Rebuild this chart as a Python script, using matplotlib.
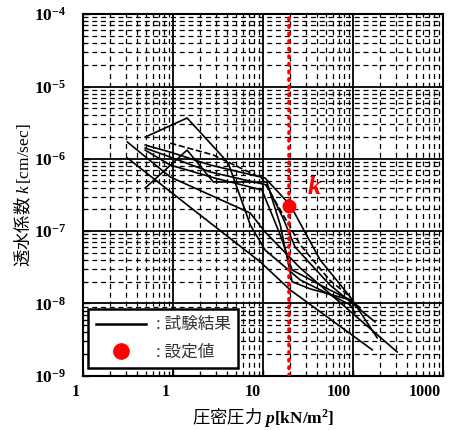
import matplotlib
matplotlib.use("Agg")
import matplotlib.pyplot as plt
import matplotlib.ticker as mticker
import matplotlib.transforms as mtrans
from matplotlib.lines import Line2D

plt.rcParams['font.family'] = ['Noto Sans CJK JP', 'DejaVu Sans']
plt.rcParams['mathtext.fontset'] = 'custom'
plt.rcParams['mathtext.rm'] = 'Liberation Serif'
plt.rcParams['mathtext.it'] = 'Liberation Serif:italic'
plt.rcParams['mathtext.bf'] = 'Liberation Serif:bold'
plt.rcParams['mathtext.bfit'] = 'Liberation Serif:italic:bold'

# test results: consolidation pressure p [kN/m2] vs permeability k [cm/sec]
p1 = [0.49, 1.43, 2.9, 4.1, 7.2, 10.5, 25.8, 93, 105]
k1 = [2.0e-6, 3.67e-6, 1.41e-6, 8.75e-7, 1.22e-7, 5.5e-8, 2.12e-8, 9.6e-9, 7.4e-9]
p2 = [0.93, 2.8, 9.7, 17.6, 25.8, 55, 93]          # dashed run
k2 = [1.65e-6, 1.13e-6, 5.4e-7, 1.5e-7, 6.5e-8, 2.1e-8, 1.23e-8]
p3 = [0.49, 1.43, 2.8, 11, 15.5, 21, 33, 93, 120]
k3 = [3.95e-7, 1.32e-6, 4.79e-7, 4.79e-7, 1.22e-7, 2.0e-8, 1.6e-8, 1.12e-8, 8.7e-9]
p4 = [0.49, 0.93, 2.6, 10.5, 20, 43, 93, 185]
k4 = [1.55e-6, 1.24e-6, 8.2e-7, 5.43e-7, 2.3e-7, 4.0e-8, 1.23e-8, 3.35e-9]
p5 = [0.49, 0.93, 2.6, 11, 16.7, 22.7, 55, 175]
k5 = [1.41e-6, 1.06e-6, 6.57e-7, 4.35e-7, 1.5e-7, 6.0e-8, 1.81e-8, 5.57e-9]
p6 = [0.49, 0.93, 2.9, 9.7, 15.5, 21, 55, 93]
k6 = [1.32e-6, 8.2e-7, 5.43e-7, 3.71e-7, 8.87e-8, 2.9e-8, 1.54e-8, 1.12e-8]
p7 = [0.31, 0.93, 7.2, 10.5, 25.8, 308]
k7 = [1.71e-6, 5.61e-7, 1.78e-7, 9.75e-8, 3.1e-8, 2.14e-9]
p8 = [0.31, 2.0, 9.3, 20, 163]
k8 = [1.03e-6, 1.67e-7, 3.76e-8, 1.54e-8, 2.29e-9]

series = [(p1, k1, '-'), (p2, k2, '--'), (p3, k3, '-'), (p4, k4, '-'),
          (p5, k5, '-'), (p6, k6, '-'), (p7, k7, '-'), (p8, k8, '-')]

# design value
p_set = 19.5
k_set = 2.2e-7

xticks = [0.1, 1, 10, 100, 1000]
xticklabels = ['1', '1', '10', '100', '1000']
yticks = [1e-9, 1e-8, 1e-7, 1e-6, 1e-5, 1e-4]
yticklabels = [r'$\mathbf{10^{-9}}$', r'$\mathbf{10^{-8}}$', r'$\mathbf{10^{-7}}$',
               r'$\mathbf{10^{-6}}$', r'$\mathbf{10^{-5}}$', r'$\mathbf{10^{-4}}$']

fig = plt.figure(figsize=(4.49, 4.30), dpi=100)
ax = fig.add_axes([0.185, 0.126, 0.802, 0.841])
ax.set_xscale('log')
ax.set_yscale('log')
ax.set_xlim(0.1, 1000)
ax.set_ylim(1e-9, 1e-4)

ax.xaxis.set_minor_locator(mticker.LogLocator(base=10, subs=range(2, 10), numticks=20))
ax.yaxis.set_minor_locator(mticker.LogLocator(base=10, subs=range(2, 10), numticks=20))
ax.xaxis.set_minor_formatter(mticker.NullFormatter())
ax.yaxis.set_minor_formatter(mticker.NullFormatter())

ax.grid(which='major', color='black', lw=1.3, ls='-')
ax.grid(which='minor', color='black', lw=0.9, ls=(0, (4, 3)))
ax.set_axisbelow(True)

for sp in ax.spines.values():
    sp.set_linewidth(1.5)
ax.tick_params(which='both', direction='in', top=False, right=False)
ax.tick_params(which='major', length=4, width=1)
ax.tick_params(which='minor', length=3, width=0.8)

ax.set_xticks(xticks, labels=xticklabels)
ax.set_yticks(yticks, labels=yticklabels)
ax.tick_params(axis='x', pad=6)
ax.tick_params(axis='y', pad=12)
off = mtrans.ScaledTranslation(-2 / 72, 0, fig.dpi_scale_trans)
for lab in ax.get_xticklabels():
    lab.set_fontfamily('Liberation Serif')
    lab.set_fontweight('bold')
    lab.set_fontsize(11.5)
    lab.set_horizontalalignment('right')
    lab.set_transform(lab.get_transform() + off)
for lab in ax.get_yticklabels():
    lab.set_fontsize(12.5)

for p, k, ls in series:
    ax.plot(p, k, color='black', lw=1.2, ls=ls, zorder=3)

ax.axvline(p_set, color='red', lw=2.6, ls=(0, (0.4, 1.7)),
           dash_capstyle='round', zorder=4)
ax.plot([p_set], [k_set], 'o', color='red', ms=9, zorder=5)
ax.text(37, 4.1e-7, r'$\mathbfit{k}$', color='red', fontsize=19,
        ha='center', va='center', zorder=5)

ax.set_xlabel(r'圧密圧力 $\mathbfit{p}\mathbf{[kN/m^2]}$', fontsize=12.5, labelpad=4)
ax.set_ylabel(r'透水係数 $\mathit{k}\,[\mathrm{cm/sec}]$', fontsize=12.5, labelpad=1)

handles = [Line2D([], [], color='black', lw=1.8),
           Line2D([], [], color='red', marker='o', ls='none', ms=11)]
leg = ax.legend(handles, [': 試験結果', ': 設定値'], loc='lower left',
                bbox_to_anchor=(0.014, 0.022), borderaxespad=0,
                fancybox=False, framealpha=1, edgecolor='black',
                fontsize=12, handlelength=3.0, borderpad=0.45,
                labelspacing=0.6, handletextpad=0.6)
leg.get_frame().set_linewidth(1.8)
leg.set_zorder(6)
for t in leg.get_texts():
    t.set_color('#333333')

fig.savefig('out.png', dpi=100)
